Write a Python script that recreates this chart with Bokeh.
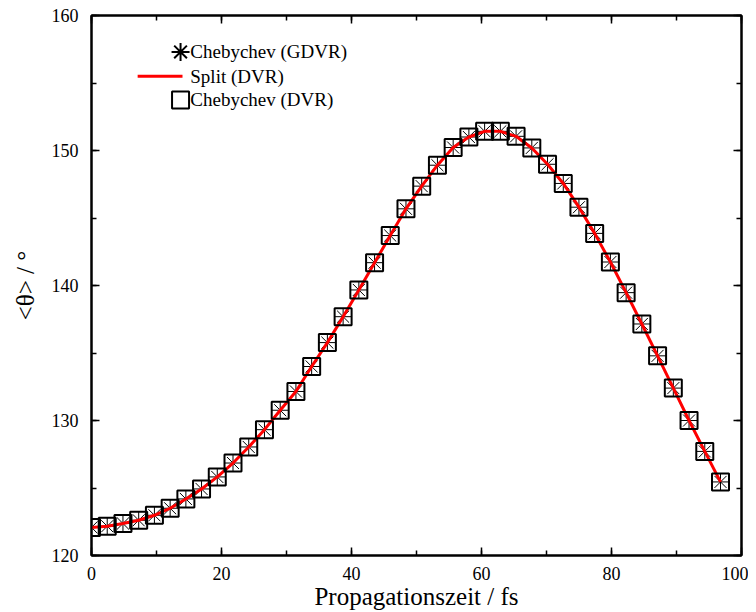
from bokeh.plotting import figure
from bokeh.models import LinearAxis, SingleIntervalTicker, Range1d, CustomJSTickFormatter
from bokeh.embed import file_html
from bokeh.resources import INLINE
from bokeh.core.properties import value

# ---- data ----
time_fs = [0.0, 2.42, 4.84, 7.26, 9.68, 12.10, 14.52, 16.93, 19.35, 21.77,
           24.19, 26.61, 29.03, 31.45, 33.87, 36.29, 38.71, 41.13, 43.55, 45.96,
           48.38, 50.80, 53.22, 55.64, 58.06, 60.48, 62.90, 65.32, 67.74, 70.16,
           72.58, 74.99, 77.41, 79.83, 82.25, 84.67, 87.09, 89.51, 91.93, 94.35,
           96.77]
theta_cheb_gdvr = [122.08, 122.17, 122.37, 122.61, 122.98, 123.50, 124.19, 124.93, 125.82, 126.85,
                   128.04, 129.32, 130.76, 132.15, 134.00, 135.77, 137.69, 139.67, 141.69, 143.70,
                   145.68, 147.36, 148.91, 150.22, 151.00, 151.42, 151.42, 151.05, 150.19, 148.98,
                   147.56, 145.80, 143.86, 141.74, 139.47, 137.15, 134.79, 132.40, 130.00, 127.71,
                   125.45]
theta_split_dvr = list(theta_cheb_gdvr)
theta_cheb_dvr = list(theta_cheb_gdvr)

legend_labels = ["Chebychev (GDVR)", "Split (DVR)", "Chebychev (DVR)"]
x_label = "Propagationszeit / fs"
y_label = "<θ> / °"

FONT = "Liberation Serif"

p = figure(width=748, height=612, output_backend="svg", toolbar_location=None,
           x_range=Range1d(0, 100), y_range=Range1d(120, 160),
           min_border_left=91, min_border_right=7, min_border_top=15, min_border_bottom=56)
p.background_fill_color = "white"
p.border_fill_color = "white"
p.outline_line_color = "black"
p.outline_line_width = 2
p.grid.visible = False

# data glyphs
p.scatter(time_fs, theta_cheb_gdvr, marker="asterisk", size=17, line_color="black", line_width=1)
p.line(time_fs, theta_split_dvr, line_color="#ff0000", line_width=3)
p.scatter(time_fs, theta_cheb_dvr, marker="square", size=17, fill_color=None,
          line_color="black", line_width=2)

# axes styling
def style_axis(ax, show_labels):
    ax.axis_line_width = 2
    ax.axis_line_color = "black"
    ax.major_tick_in = 8
    ax.major_tick_out = 0
    ax.minor_tick_in = 5
    ax.minor_tick_out = 0
    ax.major_tick_line_width = 1.5
    ax.minor_tick_line_width = 1.5
    ax.major_label_text_font = FONT
    ax.axis_label_text_font = FONT
    ax.axis_label_text_font_style = "normal"
    ax.major_label_text_color = "black"
    ax.axis_label_text_color = "black"
    if not show_labels:
        ax.formatter = CustomJSTickFormatter(code="return '';")
        ax.major_label_text_font_size = "1px"
        ax.major_label_standoff = 0

p.xaxis.ticker = SingleIntervalTicker(interval=20, num_minor_ticks=2)
p.yaxis.ticker = SingleIntervalTicker(interval=10, num_minor_ticks=2)
style_axis(p.xaxis[0], True)
style_axis(p.yaxis[0], True)
p.xaxis.major_label_text_font_size = "18px"
p.yaxis.major_label_text_font_size = "18px"
p.xaxis.major_label_standoff = 11
p.yaxis.major_label_standoff = 13
p.xaxis.axis_label = x_label
p.yaxis.axis_label = y_label
p.xaxis.axis_label_text_font_size = "25px"
p.yaxis.axis_label_text_font_size = "25px"
p.xaxis.axis_label_standoff = 0
p.yaxis.axis_label_standoff = 10

top_ax = LinearAxis(ticker=SingleIntervalTicker(interval=20, num_minor_ticks=2))
right_ax = LinearAxis(ticker=SingleIntervalTicker(interval=10, num_minor_ticks=2))
style_axis(top_ax, False)
style_axis(right_ax, False)
p.add_layout(top_ax, "above")
p.add_layout(right_ax, "right")

# manual legend (positions in data units)
leg_marker_x = 13.7
leg_line_x0, leg_line_x1 = 7.1, 14.0
leg_text_x = 15.2
leg_y = [157.3, 155.5, 153.75]
p.scatter([leg_marker_x], [leg_y[0]], marker="asterisk", size=18, line_color="black", line_width=2)
p.line([leg_line_x0, leg_line_x1], [leg_y[1], leg_y[1]], line_color="#ff0000", line_width=3)
p.scatter([leg_marker_x], [leg_y[2]], marker="square", size=17, fill_color=None,
          line_color="black", line_width=2)
p.text([leg_text_x] * 3, leg_y, text=legend_labels, text_font=value(FONT),
       text_font_size="19px", text_baseline="middle", text_align="left", text_color="black")

open("out.html", "w").write(file_html(p, INLINE))
